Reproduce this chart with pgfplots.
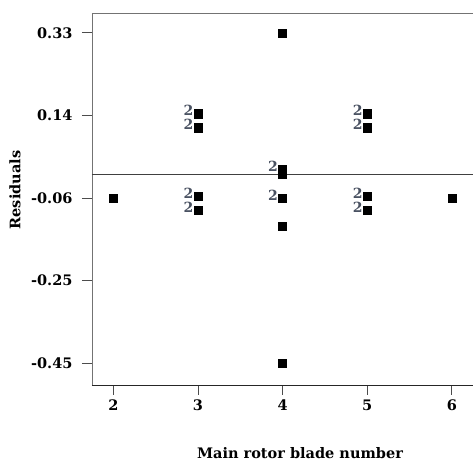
\documentclass[border=0pt]{standalone}
\usepackage{fontspec}
\setmainfont{DejaVu Serif}
\usepackage{pgfplots}
\pgfplotsset{compat=1.18}
\definecolor{countc}{HTML}{4A5262}
\newcommand{\lblfont}{\fontsize{14.5}{17}\selectfont\bfseries}
\begin{document}
\begin{tikzpicture}
\begin{axis}[
    name=ax,
    scale only axis, width=381pt, height=372pt,
    xmin=1.748, xmax=6.25, ymin=-0.502, ymax=0.377,
    axis line style={draw=none},
    xtick={2,3,4,5,6},
    xticklabels={2,3,4,5,6},
    ytick={0.33,0.135,-0.06,-0.255,-0.45},
    yticklabels={0.33,0.14,-0.06,-0.25,-0.45},
    xtick pos=bottom, ytick pos=left,
    tick align=outside, major tick length=10pt,
    tick style={black!70, line width=0.8pt},
    tick label style={font=\lblfont},
    xticklabel style={yshift=-1pt},
    yticklabel style={xshift=-6pt},
    xlabel={Main rotor blade number},
    ylabel={Residuals},
    every axis x label/.style={at={(rel axis cs:0.546,0)}, yshift=-68pt, anchor=center, font=\lblfont},
    every axis y label/.style={at={(rel axis cs:0,0.524)}, xshift=-77pt, rotate=90, anchor=center, font=\lblfont},
    clip=false,
]
\draw[black!55, line width=0.8pt] (rel axis cs:0,1) -- (rel axis cs:1,1);
\draw[black!55, line width=0.8pt] (rel axis cs:0,0) -- (rel axis cs:0,1);
\draw[black!85, line width=0.9pt] (rel axis cs:0,0) -- (rel axis cs:1,0);
% zero reference line
\addplot[black!75, line width=0.8pt, mark=none] coordinates {(1.748,-0.005) (6.25,-0.005)};
% counts of coincident points
\addplot[only marks, mark=none, nodes near coords={2},
    nodes near coords style={anchor=east, xshift=-4.5pt, yshift=3pt, inner sep=0pt, text=countc, font=\fontsize{14}{16}\selectfont\bfseries}]
    coordinates {
    (3,0.139) (3,0.106) (3,-0.055) (3,-0.089)
    (4,0.0085) (4,-0.06)
    (5,0.139) (5,0.106) (5,-0.055) (5,-0.089)
};
% residuals
\addplot[only marks, mark=square*, mark size=4.1pt, mark options={fill=black, draw=black, rounded corners=1pt}]
    coordinates {
    (2,-0.06)
    (3,0.139) (3,0.106) (3,-0.055) (3,-0.089)
    (4,0.33) (4,0.0085) (4,-0.003) (4,-0.06) (4,-0.127) (4,-0.45)
    (5,0.139) (5,0.106) (5,-0.055) (5,-0.089)
    (6,-0.06)
};
\end{axis}
\pgfresetboundingbox
\path ([shift={(-92pt,-77pt)}]ax.south west) rectangle ([shift={(0pt,13pt)}]ax.north east);
\end{tikzpicture}
\end{document}
